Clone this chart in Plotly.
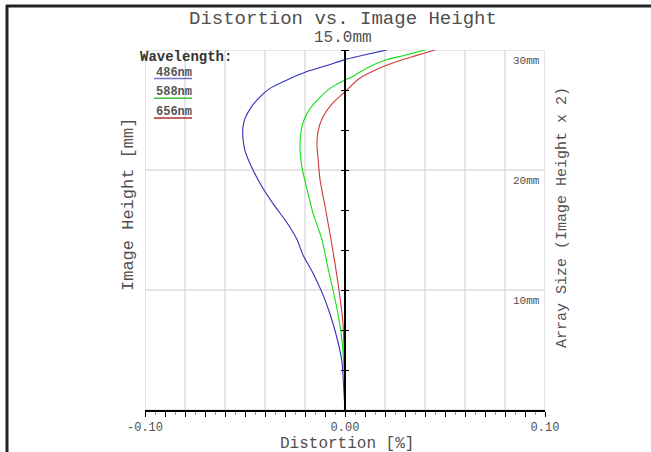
import plotly.graph_objects as go

# Data: distortion (%) vs image height (mm, 0..15)
h_486 = [0.0, 0.7, 2.0, 3.0, 4.0, 4.9, 5.7, 6.46, 7.1, 7.8, 8.6, 9.3, 10.0, 10.8, 11.3, 11.8, 12.15, 12.64, 13.05, 13.4, 13.75, 14.1, 14.4, 14.6, 15.0]
d_486 = [0.0, -0.0005, -0.0015, -0.004, -0.0075, -0.0115, -0.016, -0.021, -0.024, -0.029, -0.036, -0.0415, -0.046, -0.05, -0.051, -0.051, -0.05, -0.0467, -0.0425, -0.0375, -0.029, -0.019, -0.0075, 0.0, 0.0208]

h_588 = [0.0, 1.7, 2.9, 4.0, 5.0, 6.1, 7.1, 8.2, 9.2, 10.1, 11.0, 11.74, 12.36, 12.9, 13.4, 13.75, 13.9, 14.25, 14.6, 14.78, 15.0]
d_588 = [0.0, -0.0005, -0.0015, -0.0035, -0.006, -0.009, -0.0115, -0.016, -0.019, -0.0215, -0.0225, -0.0217, -0.019, -0.014, -0.0075, 0.0, 0.004, 0.011, 0.021, 0.03, 0.04]

h_656 = [0.0, 2.0, 3.6, 5.0, 6.1, 7.1, 8.5, 9.6, 10.5, 11.0, 11.6, 12.22, 12.8, 13.26, 13.8, 14.2, 14.6, 15.0]
d_656 = [0.0, -0.0003, -0.001, -0.003, -0.005, -0.007, -0.01, -0.0125, -0.0135, -0.014, -0.0135, -0.011, -0.006, 0.0, 0.007, 0.016, 0.029, 0.045]

wavelengths = ["486nm", "588nm", "656nm"]
colors = ["#3030b8", "#10e010", "#d03838"]
legend_line_colors = ["#7070d0", "#40c040", "#b03030"]

x_tick_vals = [-0.10, 0.00, 0.10]
x_tick_text = ["-0.10", "0.00", "0.10"]
x_grid_vals = [-0.08, -0.06, -0.04, -0.02, 0.02, 0.04, 0.06, 0.08]
y_grid_vals = [5, 10]
array_labels = ["10mm", "20mm", "30mm"]
array_label_pos = [5, 10, 15]
center_tick_vals = [i * 15 / 9 for i in range(10)]

FONT = "Liberation Mono"
TXT = "#505050"

fig = go.Figure()
series = [(h_486, d_486), (h_588, d_588), (h_656, d_656)]
for (h, d), c, name in zip(series, colors, wavelengths):
    fig.add_trace(go.Scatter(x=d, y=h, mode="lines", line=dict(color=c, width=1.1, shape="spline", smoothing=0.6),
                             name=name, showlegend=False, hoverinfo="skip"))

W, H = 651, 452
L, R, T, B = 145, 106, 50, 42

def px(xp):
    return (xp - L) / (W - L - R)

def py(yp):
    return (H - B - yp) / (H - T - B)

shapes = []
for xv in x_grid_vals:
    shapes.append(dict(type="line", xref="x", yref="y", x0=xv, x1=xv, y0=0, y1=15,
                       line=dict(color="#cccccc", width=1), layer="below"))
for yv in y_grid_vals:
    shapes.append(dict(type="line", xref="x", yref="y", x0=-0.1, x1=0.1, y0=yv, y1=yv,
                       line=dict(color="#cccccc", width=1), layer="below"))
shapes.append(dict(type="rect", xref="x", yref="y", x0=-0.1, x1=0.1, y0=0, y1=15,
                   line=dict(color="#cccccc", width=1), layer="below"))
# outer frame
shapes.append(dict(type="line", xref="paper", yref="paper", x0=px(6), x1=px(651), y0=py(6), y1=py(6),
                   line=dict(color="#222222", width=3)))
shapes.append(dict(type="line", xref="paper", yref="paper", x0=px(7), x1=px(7), y0=py(5), y1=py(452),
                   line=dict(color="#222222", width=3)))
# legend sample lines
for i, c in enumerate(legend_line_colors):
    yl = 78.5 + 19.7 * i
    shapes.append(dict(type="line", xref="paper", yref="paper", x0=px(154), x1=px(192), y0=py(yl), y1=py(yl),
                       line=dict(color=c, width=1.5)))

def ann(text, x, y, size, xanchor="center", angle=0, color=TXT):
    return dict(text=text, x=px(x), y=py(y), xref="paper", yref="paper", xanchor=xanchor, yanchor="middle",
                textangle=angle, showarrow=False, font=dict(family=FONT, size=size, color=color))

annotations = [
    ann("Distortion vs. Image Height", 343, 19, 19),
    ann("15.0mm", 343, 38, 16),
    ann("Distortion [%]", 347, 444, 16),
    ann("Image Height [mm]", 128, 205, 17, angle=-90),
    ann("Array Size (Image Height x 2)", 562, 218, 15, angle=-90),
    ann("<b>Wavelength:</b>", 138, 57, 14, xanchor="left", color="#333333"),
]
for i, name in enumerate(wavelengths):
    annotations.append(ann("<b>" + name + "</b>", 154, 72.5 + 19.7 * i, 12, xanchor="left", color="#555555"))
for lab, yv in zip(array_labels, array_label_pos):
    annotations.append(dict(text=lab, x=0.1, y=yv, xref="x", yref="y", xanchor="right", yanchor="top",
                            xshift=-3, yshift=-3, showarrow=False, font=dict(family=FONT, size=11, color=TXT)))

fig.update_layout(
    width=W, height=H,
    margin=dict(l=L, r=R, t=T, b=B),
    paper_bgcolor="white", plot_bgcolor="white",
    showlegend=False,
    shapes=shapes, annotations=annotations,
    xaxis=dict(range=[-0.1, 0.1], showgrid=False, zeroline=False,
               showline=True, linecolor="black", linewidth=1.5,
               tickmode="array", tickvals=[round(-0.1 + 0.01 * i, 2) for i in range(21)],
               ticktext=[x_tick_text[x_tick_vals.index(round(-0.1 + 0.01 * i, 2))] if round(-0.1 + 0.01 * i, 2) in x_tick_vals else "" for i in range(21)],
               ticks="outside", ticklen=5, tickcolor="black", tickwidth=1,
               tickfont=dict(family=FONT, size=12, color=TXT),
               minor=dict(dtick=0.005, tick0=0, ticks="outside", ticklen=3, tickcolor="#999999", showgrid=False)),
    yaxis=dict(range=[0, 15], showgrid=False, zeroline=False, showline=False, showticklabels=False, ticks=""),
    yaxis2=dict(range=[0, 15], overlaying="y", anchor="free", position=0.5, side="left",
                showgrid=False, zeroline=False, showline=True, linecolor="black", linewidth=1.5,
                tickmode="array", tickvals=center_tick_vals, ticks="outside", ticklen=3,
                tickcolor="black", showticklabels=False),
    yaxis3=dict(range=[0, 15], overlaying="y", anchor="free", position=0.5, side="right",
                showgrid=False, zeroline=False, showline=False,
                tickmode="array", tickvals=center_tick_vals, ticks="outside", ticklen=3,
                tickcolor="black", showticklabels=False),
)
fig.add_trace(go.Scatter(x=[None], y=[None], yaxis="y2", showlegend=False, hoverinfo="skip"))
fig.add_trace(go.Scatter(x=[None], y=[None], yaxis="y3", showlegend=False, hoverinfo="skip"))

fig.write_html("out.html", config={"displayModeBar": False},
               post_script="document.body.style.margin='0';document.body.style.overflow='hidden';")
